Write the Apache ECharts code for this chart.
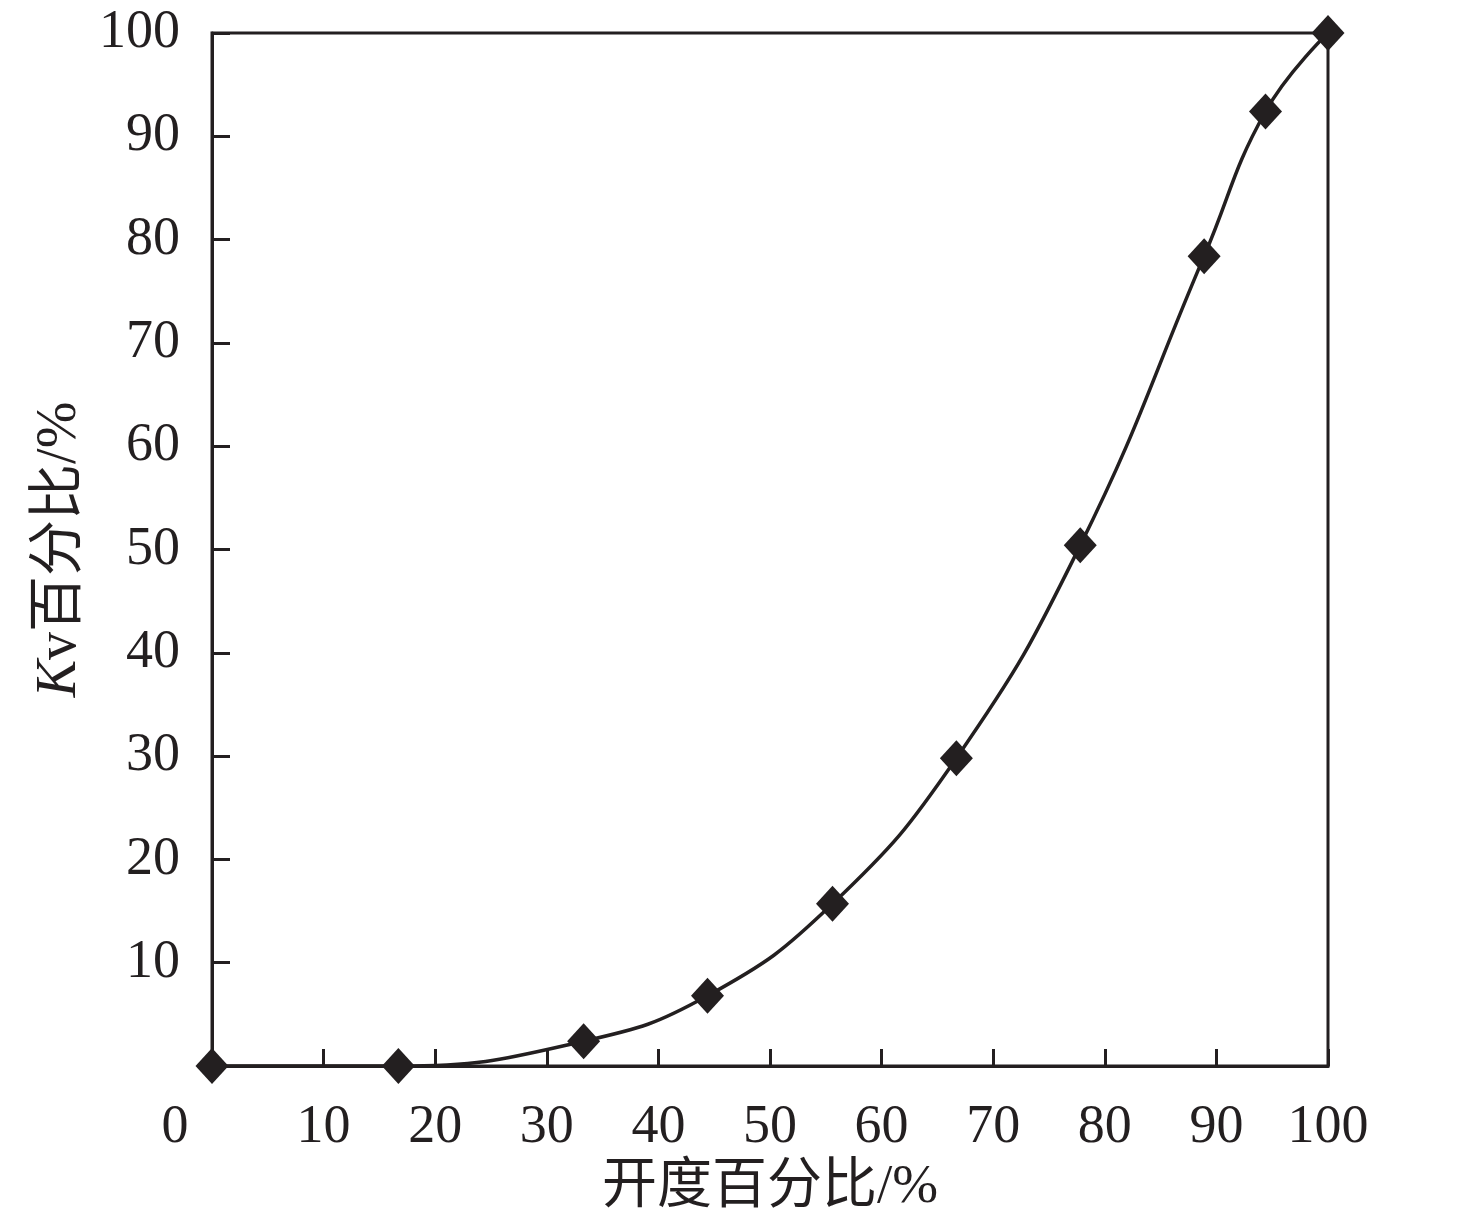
<!DOCTYPE html>
<html>
<head>
<meta charset="utf-8">
<style>
  html, body { margin: 0; padding: 0; background: #fff; }
  #chart { width: 1476px; height: 1224px; }
</style>
<script src="https://cdn.jsdelivr.net/npm/echarts@6/dist/echarts.min.js"></script>
</head>
<body>
<div id="chart"></div>
<script>
  // 开度百分比 / Kv百分比
  var openPct = [0, 16.7, 33.3, 44.4, 55.6, 66.7, 77.8, 88.9, 94.4, 100];
  var kvPct = [0, 0, 2.4, 6.8, 15.7, 29.8, 50.4, 78.4, 92.4, 100];

  var ink = '#231f20';
  var serif = '"Liberation Serif", "Times New Roman", "Noto Sans CJK SC", serif';

  var chart = echarts.init(document.getElementById('chart'));

  var points = [];
  for (var i = 0; i < openPct.length; i++) {
    points.push([openPct[i], kvPct[i]]);
  }

  var option = {
    backgroundColor: '#fff',
    animation: false,
    grid: {
      left: 212, right: 148, top: 33, bottom: 158,
      show: true,
      borderColor: ink,
      borderWidth: 3
    },
    xAxis: {
      type: 'value',
      min: 0, max: 100, interval: 10,
      name: '开度百分比/%',
      nameLocation: 'middle',
      nameGap: 92,
      nameTextStyle: { fontFamily: serif, fontSize: 55, color: ink },
      axisLine: { show: true, lineStyle: { color: ink, width: 3 } },
      axisTick: { show: true, inside: true, length: 17, lineStyle: { color: ink, width: 3 } },
      splitLine: { show: false },
      axisLabel: {
        margin: 35,
        fontFamily: serif,
        fontSize: 54,
        color: ink,
        formatter: function (v) { return v === 0 ? '{z|0}' : String(v); },
        rich: { z: { fontFamily: serif, fontSize: 54, color: ink, padding: [0, 74, 0, 0] } }
      }
    },
    yAxis: {
      type: 'value',
      min: 0, max: 100, interval: 10,
      name: '{i|K}v百分比/%',
      nameLocation: 'middle',
      nameGap: 120,
      nameTextStyle: {
        fontFamily: serif, fontSize: 56, color: ink,
        rich: { i: { fontFamily: serif, fontSize: 56, fontStyle: 'italic', color: ink } }
      },
      axisLine: { show: true, lineStyle: { color: ink, width: 3 } },
      axisTick: { show: true, inside: true, length: 18, lineStyle: { color: ink, width: 3 } },
      splitLine: { show: false },
      axisLabel: {
        showMinLabel: false,
        margin: 32,
        fontFamily: serif,
        fontSize: 54,
        color: ink
      }
    },
    series: [{
      type: 'line',
      data: points,
      smooth: 0.45,
      symbol: 'diamond',
      symbolSize: [33, 36],
      itemStyle: { color: ink },
      lineStyle: { color: ink, width: 3.5 },
      clip: false
    }]
  };

  chart.setOption(option);
</script>
</body>
</html>
